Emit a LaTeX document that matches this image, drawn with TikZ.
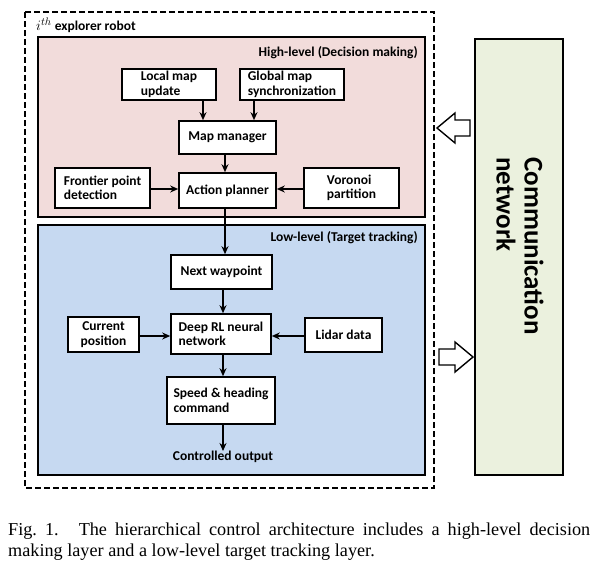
\documentclass[tikz,border=0pt]{standalone}
\usepackage{fontspec}
\setmainfont{Liberation Serif}
\setsansfont{Carlito}
\usetikzlibrary{arrows.meta}
\definecolor{highbg}{HTML}{F2DCDB}
\definecolor{lowbg}{HTML}{C6D9F1}
\definecolor{netbg}{HTML}{EBF1DE}
\begin{document}
\begin{tikzpicture}[
    x=1pt, y=-1pt,
    box/.style={draw, fill=white, line width=1.6pt, align=left, inner sep=2pt,
                font=\sffamily\bfseries\fontsize{13.5}{14.5}\selectfont},
    layer/.style={draw, line width=1.6pt},
    tag/.style={anchor=east, inner sep=0pt, font=\sffamily\bfseries\fontsize{13.5}{14.5}\selectfont},
    arr/.style={-{Stealth[length=8pt,width=7pt]}, line width=1.6pt},
    hollow/.style={draw, fill=white, line width=1.4pt, line join=miter}
  ]
    \useasboundingbox (0,0) rectangle (613,573);

    % robot frame and the two layers
    \draw[line width=1.8pt, dash pattern=on 6pt off 3pt] (25,12) rectangle (434,488);
    \node[anchor=west, inner sep=0pt, font=\sffamily\bfseries\fontsize{13.5}{14.5}\selectfont]
         (robot) at (36,25) {\fontsize{15}{16}\selectfont$i^{th}$\fontsize{13.5}{14.5}\selectfont{} explorer robot};
    \draw[layer, fill=highbg] (38,37)  rectangle (425,217);
    \draw[layer, fill=lowbg]  (38,225) rectangle (425,475);
    \node[tag] (high) at (418,53)  {High-level (Decision making)};
    \node[tag] (low)  at (418,238) {Low-level (Target tracking)};

    % high level
    \node[box, minimum width=94pt,  minimum height=31pt] (lmap)  at (169,84.5)  {Local map\\update};
    \node[box, minimum width=104pt, minimum height=31pt] (gmap)  at (292,84.5)  {Global map\\synchronization};
    \node[box, minimum width=97pt,  minimum height=33pt, align=center] (mgr) at (227.5,137.5) {Map manager};
    \node[box, minimum width=95pt,  minimum height=40pt] (front) at (102.5,188)  {Frontier point\\detection};
    \node[box, minimum width=97pt,  minimum height=35pt, align=center] (plan) at (227.5,190.5) {Action planner};
    \node[box, minimum width=95pt,  minimum height=40pt] (voro)  at (351.5,188)  {Voronoi\\partition};

    % low level
    \node[box, minimum width=101pt, minimum height=34pt, align=center] (wp) at (221.5,272) {Next waypoint};
    \node[box, minimum width=100pt, minimum height=40pt] (drl)   at (221,334)    {Deep RL neural\\network};
    \node[box, minimum width=71pt,  minimum height=35pt, align=center] (cur) at (103.5,334.5) {Current\\position};
    \node[box, minimum width=77pt,  minimum height=34pt, align=center] (lidar) at (343.5,335) {Lidar data};
    \node[box, minimum width=108pt, minimum height=47pt] (cmd)   at (221,400.5)  {Speed \& heading\\command};
    \node[tag, anchor=center] (out) at (223,457) {Controlled output};

    % communication network
    \node[draw, fill=netbg, line width=1.4pt, minimum width=88pt, minimum height=436pt]
         (net) at (519,257) {};
    \node[rotate=-90, align=left, inner sep=0pt, font=\sffamily\bfseries\fontsize{27}{28}\selectfont]
         (nettext) at (520,246) {Communication\\network};

    % links to the network
    \draw[hollow] (470,120) -- (455,120) -- (455,113) -- (437,128)
                  -- (455,143) -- (455,136) -- (470,136) -- cycle;
    \draw[hollow] (439,349) -- (455,349) -- (455,342) -- (473,357)
                  -- (455,372) -- (455,365) -- (439,365) -- cycle;

    \draw[arr] ([xshift=-24.5pt]mgr.north |- lmap.south) -- ([xshift=-24.5pt]mgr.north);
    \draw[arr] ([xshift=26.5pt]mgr.north |- gmap.south)  -- ([xshift=26.5pt]mgr.north);
    \draw[arr] ([xshift=-2.5pt]mgr.south)  -- ([xshift=-2.5pt]plan.north);
    \draw[arr] (front.east |- 0,189) -- (plan.west |- 0,189);
    \draw[arr] (voro.west |- 0,189)  -- (plan.east |- 0,189);
    \draw[arr] ([xshift=-2.5pt]plan.south) -- ([xshift=-2.5pt]plan.south |- wp.north);
    \draw[arr] ([xshift=1.5pt]wp.south |- wp.south) -- ([xshift=1.5pt]wp.south |- drl.north);
    \draw[arr] (cur.east |- 0,336)   -- (drl.west |- 0,336);
    \draw[arr] (lidar.west |- 0,336) -- (drl.east |- 0,336);
    \draw[arr] ([xshift=2pt]drl.south) -- ([xshift=2pt]drl.south |- cmd.north);
    \draw[arr] ([xshift=2pt]cmd.south) -- ([xshift=2pt]cmd.south |- out.north);

    % caption
    \node[anchor=north west, inner sep=0pt, text width=582pt, align=justify,
          font=\fontsize{18.2}{21}\selectfont] (caption) at (8,523)
         {Fig.~1.\hspace{1.1em}The hierarchical control architecture includes a high-level decision\linebreak
          making layer and a low-level target tracking layer.};
  \end{tikzpicture}
\end{document}
